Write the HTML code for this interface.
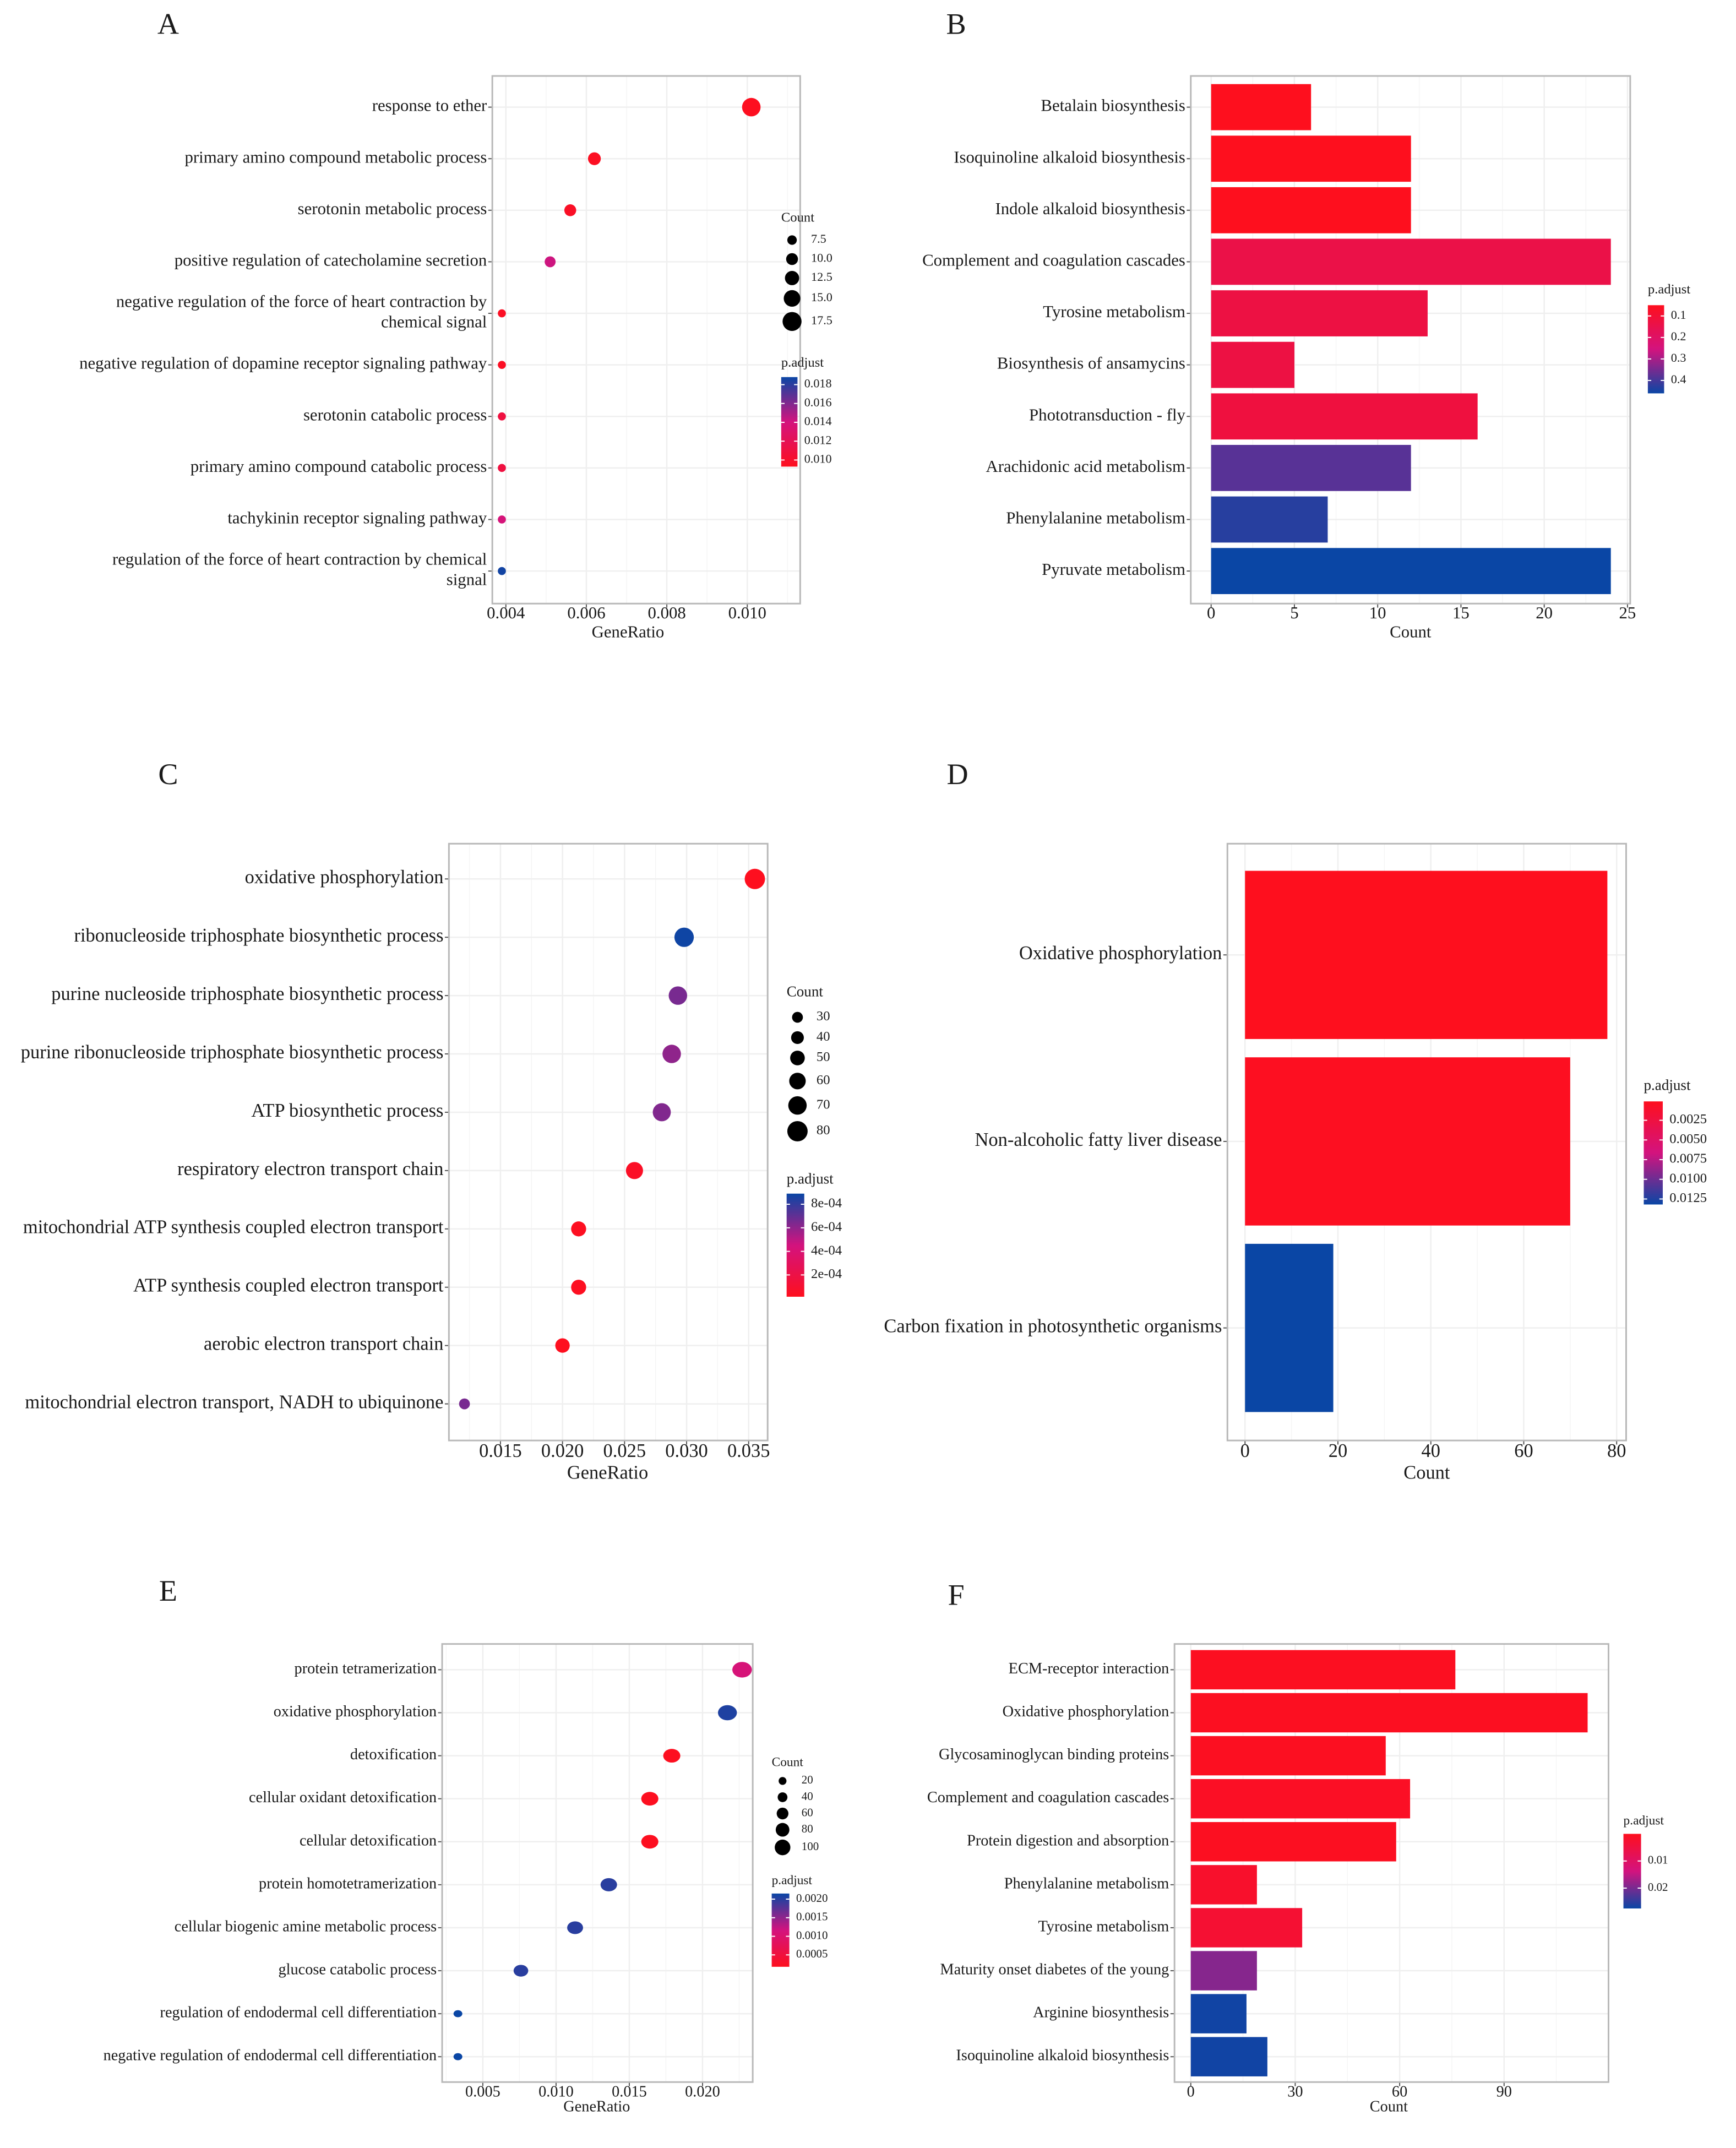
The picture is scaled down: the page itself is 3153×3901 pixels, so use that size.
<!DOCTYPE html>
<html><head><meta charset="utf-8"><style>
html,body{margin:0;padding:0;background:#fff;}
svg{display:block;font-family:"Liberation Serif",serif;}
</style></head><body>
<svg id="fig" xmlns="http://www.w3.org/2000/svg" width="3153" height="3901" viewBox="0 0 1280 1583.6" preserveAspectRatio="none">
<rect width="1280" height="1583.6" fill="#fff"/>
</svg>
<script>
// ---------- Panel A data ----------
const catsA = ["response to ether","primary amino compound metabolic process","serotonin metabolic process","positive regulation of catecholamine secretion","negative regulation of the force of heart contraction by|chemical signal","negative regulation of dopamine receptor signaling pathway","serotonin catabolic process","primary amino compound catabolic process","tachykinin receptor signaling pathway","regulation of the force of heart contraction by chemical|signal"];
const ratioA = [0.0101,0.0062,0.0056,0.0051,0.0039,0.0039,0.0039,0.0039,0.0039,0.0039];
const countA = [17,11,10,9,6,6,6,6,6,6];
const pA = [0.0094,0.0095,0.0097,0.0142,0.0096,0.0096,0.0110,0.0110,0.0138,0.0186];
const ticksA = [0.004,0.006,0.008,0.010];
const tickLabA = ["0.004","0.006","0.008","0.010"];
const sizeLegA = [7.5,10.0,12.5,15.0,17.5];
const sizeLabA = ["7.5","10.0","12.5","15.0","17.5"];
const colLabA = ["0.018","0.016","0.014","0.012","0.010"];
const colValA = [0.018,0.016,0.014,0.012,0.010];
// ---------- Panel B data ----------
const catsB = ["Betalain biosynthesis","Isoquinoline alkaloid biosynthesis","Indole alkaloid biosynthesis","Complement and coagulation cascades","Tyrosine metabolism","Biosynthesis of ansamycins","Phototransduction - fly","Arachidonic acid metabolism","Phenylalanine metabolism","Pyruvate metabolism"];
const countB = [6,12,12,24,13,5,16,12,7,24];
const pB = [0.05,0.05,0.05,0.14,0.13,0.13,0.12,0.38,0.43,0.46];
const ticksB = [0,5,10,15,20,25];
const colLabB = ["0.1","0.2","0.3","0.4"];
const colValB = [0.1,0.2,0.3,0.4];
// ---------- Panel C data ----------
const catsC = ["oxidative phosphorylation","ribonucleoside triphosphate biosynthetic process","purine nucleoside triphosphate biosynthetic process","purine ribonucleoside triphosphate biosynthetic process","ATP biosynthetic process","respiratory electron transport chain","mitochondrial ATP synthesis coupled electron transport","ATP synthesis coupled electron transport","aerobic electron transport chain","mitochondrial electron transport, NADH to ubiquinone"];
const ratioC = [0.0355,0.0298,0.0293,0.0288,0.0280,0.0258,0.0213,0.0213,0.0200,0.0121];
const countC = [80,75,70,70,68,63,52,52,49,30];
const pC = [0.00002,0.00088,0.00065,0.00060,0.00063,0.00005,0.00003,0.00003,0.00002,0.00065];
const ticksC = [0.015,0.020,0.025,0.030,0.035];
const tickLabC = ["0.015","0.020","0.025","0.030","0.035"];
const sizeLegC = [30,40,50,60,70,80];
const colLabC = ["8e-04","6e-04","4e-04","2e-04"];
const colValC = [0.0008,0.0006,0.0004,0.0002];
// ---------- Panel D data ----------
const catsD = ["Oxidative phosphorylation","Non-alcoholic fatty liver disease","Carbon fixation in photosynthetic organisms"];
const countD = [78,70,19];
const pD = [0.0001,0.0003,0.0132];
const ticksD = [0,20,40,60,80];
const colLabD = ["0.0025","0.0050","0.0075","0.0100","0.0125"];
const colValD = [0.0025,0.0050,0.0075,0.0100,0.0125];
// ---------- Panel E data ----------
const catsE = ["protein tetramerization","oxidative phosphorylation","detoxification","cellular oxidant detoxification","cellular detoxification","protein homotetramerization","cellular biogenic amine metabolic process","glucose catabolic process","regulation of endodermal cell differentiation","negative regulation of endodermal cell differentiation"];
const ratioE = [0.0227,0.0217,0.0179,0.0164,0.0164,0.0136,0.0113,0.0076,0.0033,0.0033];
const countE = [100,95,80,80,80,75,70,60,12,12];
const pE = [0.0011,0.00205,0.0002,0.0002,0.0002,0.0020,0.0020,0.0020,0.00215,0.00215];
const ticksE = [0.005,0.010,0.015,0.020];
const tickLabE = ["0.005","0.010","0.015","0.020"];
const sizeLegE = [20,40,60,80,100];
const colLabE = ["0.0020","0.0015","0.0010","0.0005"];
const colValE = [0.0020,0.0015,0.0010,0.0005];
// ---------- Panel F data ----------
const catsF = ["ECM-receptor interaction","Oxidative phosphorylation","Glycosaminoglycan binding proteins","Complement and coagulation cascades","Protein digestion and absorption","Phenylalanine metabolism","Tyrosine metabolism","Maturity onset diabetes of the young","Arginine biosynthesis","Isoquinoline alkaloid biosynthesis"];
const countF = [76,114,56,63,59,19,32,19,16,22];
const pF = [0.0005,0.0005,0.0005,0.001,0.0005,0.002,0.003,0.019,0.027,0.027];
const ticksF = [0,30,60,90];
const colLabF = ["0.01","0.02"];
const colValF = [0.01,0.02];

const NS="http://www.w3.org/2000/svg";
const svg=document.getElementById('fig');
function mk(tag,attrs,parent){const e=document.createElementNS(NS,tag);for(const k in attrs)e.setAttribute(k,attrs[k]);(parent||svg).appendChild(e);return e;}
function lerp(a,b,t){return Math.round(a+(b-a)*t);}
function color(t){t=Math.max(0,Math.min(1,t));
  const s=[[254,15,30],[211,19,126],[10,70,165]];
  let a,b,u; if(t<0.5){a=s[0];b=s[1];u=t/0.5;}else{a=s[1];b=s[2];u=(t-0.5)/0.5;}
  return `rgb(${lerp(a[0],b[0],u)},${lerp(a[1],b[1],u)},${lerp(a[2],b[2],u)})`;}
function txt(x,y,s,size,anchor,parent){const t=mk('text',{x:x,y:y,'font-size':size,'text-anchor':anchor||'start','dominant-baseline':'middle',fill:'#1a1a1a'},parent);t.textContent=s;return t;}

function panel(o){
  const g=mk('g',{});
  
  
  const L=txt(o.lx,o.ly,o.letter,22,'middle',g);
  
  
  const sx=v=>o.px0+(v-o.v0)*(o.px1-o.px0)/(o.v1-o.v0);
  const n=o.cats.length;
  const rowY=i=>o.ry0+i*o.rstep;
  mk('rect',{x:o.x0,y:o.y0,width:o.x1-o.x0,height:o.y1-o.y0,fill:'#fff'},g);
  for(let i=0;i<o.ticks.length;i++){
    const mv=o.ticks[i]+(o.ticks[1]-o.ticks[0])/2, mx=sx(mv);
    if(mx>o.x0&&mx<o.x1) mk('line',{x1:mx,x2:mx,y1:o.y0,y2:o.y1,stroke:'#f5f5f5','stroke-width':0.6},g);
    const pm=sx(o.ticks[0]-(o.ticks[1]-o.ticks[0])/2); if(i==0&&pm>o.x0) mk('line',{x1:pm,x2:pm,y1:o.y0,y2:o.y1,stroke:'#f5f5f5','stroke-width':0.6},g);
  }
  for(let i=0;i<o.ticks.length;i++){const x=sx(o.ticks[i]);
    const gl=mk('line',{x1:x,x2:x,y1:o.y0,y2:o.y1,stroke:'#efefef','stroke-width':1},g);
    
    
    mk('line',{x1:x,x2:x,y1:o.y1,y2:o.y1+3,stroke:'#555','stroke-width':0.8},g);
    const tl=txt(x,o.tickY,o.tickLab[i],o.tfs,'middle',g);
    
    
  }
  for(let i=0;i<n;i++){const y=rowY(i);
    mk('line',{x1:o.x0,x2:o.x1,y1:y,y2:y,stroke:'#efefef','stroke-width':1},g);
    mk('line',{x1:o.x0-3,x2:o.x0,y1:y,y2:y,stroke:'#555','stroke-width':0.8},g);
    const parts=o.cats[i].split('|');
    parts.forEach((p,k)=>{const t=txt(o.x0-4,y+(parts.length>1?(k-0.5)*15:0),p,o.fs,'end',g);
      
      });
  }
  for(let i=0;i<n;i++){const y=rowY(i);const t=(o.p[i]-o.pmin)/(o.pmax-o.pmin);
    if(o.type==='bar'){
      const b=mk('rect',{x:sx(0),y:y-o.bh/2,width:sx(o.vals[i])-sx(0),height:o.bh,fill:color(t)},g);
      
      
    } else {
      const r=o.rad(o.counts[i]);
      const c=mk('ellipse',{cx:sx(o.vals[i]),cy:y,rx:r*(o.ex||1),ry:r,fill:color(t)},g);
      
      
    }
  }
  const br=mk('rect',{x:o.x0,y:o.y0,width:o.x1-o.x0,height:o.y1-o.y0,fill:'none',stroke:'#b8b8b8','stroke-width':1.2},g);
  
  
  const xt=txt(o.xtx,o.xty,o.xtitle,o.tfs,'middle',g);
  
  
  if(o.sizeLeg){
    const st=txt(o.legX,o.sizeTitleY,'Count',o.lfs,'start',g);
    
    
    o.sizeLeg.forEach((v,k)=>{const y=o.sizeYs[k];
      const c=mk('ellipse',{cx:o.legX+8,cy:y,rx:o.rad(v)*(o.legEx||1),ry:o.rad(v),fill:'#000'},g);
      
      
      txt(o.legX+22,y,o.sizeLab?o.sizeLab[k]:String(v),o.lfs-1,'start',g);});
  }
  const ct=txt(o.legX,o.colTitleY,'p.adjust',o.lfs,'start',g);
  
  
  const gid='grad'+o.letter;
  const defs=mk('defs',{},g);
  const lg=o.rev?mk('linearGradient',{id:gid,x1:0,y1:0,x2:0,y2:1},defs):mk('linearGradient',{id:gid,x1:0,y1:1,x2:0,y2:0},defs);
  for(let k=0;k<=10;k++)mk('stop',{offset:k/10,'stop-color':color(k/10)},lg);
  const cb=mk('rect',{x:o.legX,y:o.cbY0,width:o.cbW,height:o.cbY1-o.cbY0,fill:`url(#${gid})`},g);
  
  
  const h=o.cbY1-o.cbY0;
  const cy=v=>{const t=(v-o.pmin)/(o.pmax-o.pmin);return o.rev?o.cbY0+t*h:o.cbY1-t*h;};
  o.colVal.forEach((v,k)=>{const y=cy(v);
    mk('line',{x1:o.legX,x2:o.legX+2.5,y1:y,y2:y,stroke:'#fff','stroke-width':0.8},g);
    mk('line',{x1:o.legX+o.cbW-2.5,x2:o.legX+o.cbW,y1:y,y2:y,stroke:'#fff','stroke-width':0.8},g);
    const l=txt(o.legX+o.cbW+5,y,o.colLab[k],o.lfs-1,'start',g);
    
    });
}

panel({name:'panel-a',letter:'A',lx:124,ly:20,type:'dot',x0:363,x1:590,y0:56,y1:445,px0:373,px1:551,v0:0.004,v1:0.010,
  cats:catsA,vals:ratioA,counts:countA,p:pA,ry0:79,rstep:38,ticks:ticksA,tickLab:tickLabA,tickY:453,fs:12.5,tfs:12.5,
  xtitle:'GeneRatio',xtx:463,xty:467,rad:c=>3.5+(c-7.5)*0.35,legX:576,lfs:10,sizeTitleY:161,sizeLeg:sizeLegA,sizeLab:sizeLabA,sizeYs:[177,191,205,220,237],
  colTitleY:268,cbY0:278,cbY1:344,cbW:12,pmin:0.0093,pmax:0.0188,colVal:colValA,colLab:colLabA});
panel({name:'panel-b',letter:'B',lx:705,ly:20,type:'bar',rev:true,x0:878,x1:1202,y0:56,y1:445,px0:893,px1:1200,v0:0,v1:25,
  cats:catsB,vals:countB,p:pB,ry0:79,rstep:38,bh:34,ticks:ticksB,tickLab:ticksB.map(String),tickY:453,fs:12.5,tfs:12.5,
  xtitle:'Count',xtx:1040,xty:467,legX:1215,lfs:10,colTitleY:214,cbY0:225,cbY1:290,cbW:12,pmin:0.05,pmax:0.46,colVal:colValB,colLab:colLabB});
panel({name:'panel-c',letter:'C',lx:124,ly:573,type:'dot',x0:331,x1:566,y0:622,y1:1062,px0:369,px1:552,v0:0.015,v1:0.035,
  cats:catsC,vals:ratioC,counts:countC,p:pC,ry0:648,rstep:43,ticks:ticksC,tickLab:tickLabC,tickY:1071,fs:14,tfs:14,
  xtitle:'GeneRatio',xtx:448,xty:1087,rad:c=>4+(c-30)*0.07,legX:580,lfs:11,sizeTitleY:732,sizeLeg:sizeLegC,sizeYs:[750,765,780,797,815,834],
  colTitleY:870,cbY0:880,cbY1:956,cbW:13,pmin:0.000015,pmax:0.00089,colVal:colValC,colLab:colLabC});
panel({name:'panel-d',letter:'D',lx:706,ly:573,type:'bar',rev:true,x0:905,x1:1199,y0:622,y1:1062,px0:918,px1:1192,v0:0,v1:80,
  cats:catsD,vals:countD,p:pD,ry0:704,rstep:137.5,bh:124,ticks:ticksD,tickLab:ticksD.map(String),tickY:1071,fs:14,tfs:14,
  xtitle:'Count',xtx:1052,xty:1087,legX:1212,lfs:11,colTitleY:801,cbY0:812,cbY1:888,cbW:14,pmin:0.0001,pmax:0.0132,colVal:colValD,colLab:colLabD});
panel({name:'panel-e',letter:'E',lx:124,ly:1175,type:'dot',x0:326,x1:555,y0:1212,y1:1535,px0:356,px1:518,v0:0.005,v1:0.020,
  cats:catsE,vals:ratioE,counts:countE,p:pE,ry0:1231,rstep:31.7,ticks:ticksE,tickLab:tickLabE,tickY:1543,fs:11.5,tfs:11.5,ex:1.25,
  xtitle:'GeneRatio',xtx:440,xty:1554,rad:c=>2.6+(c-12)*0.036,legX:569,lfs:9.5,sizeTitleY:1300,sizeLeg:sizeLegE,sizeYs:[1313,1325,1337,1349,1362],
  colTitleY:1387,cbY0:1396,cbY1:1450,cbW:13,pmin:0.00018,pmax:0.00215,colVal:colValE,colLab:colLabE});
panel({name:'panel-f',letter:'F',lx:705,ly:1178,type:'bar',rev:true,x0:866,x1:1186,y0:1212,y1:1535,px0:878,px1:1109,v0:0,v1:90,
  cats:catsF,vals:countF,p:pF,ry0:1231,rstep:31.7,bh:29,ticks:ticksF,tickLab:ticksF.map(String),tickY:1543,fs:11.5,tfs:11.5,
  xtitle:'Count',xtx:1024,xty:1554,legX:1197,lfs:9.5,colTitleY:1343,cbY0:1352,cbY1:1407,cbW:13,pmin:0.0,pmax:0.0275,colVal:colValF,colLab:colLabF});
</script>
</body></html>
